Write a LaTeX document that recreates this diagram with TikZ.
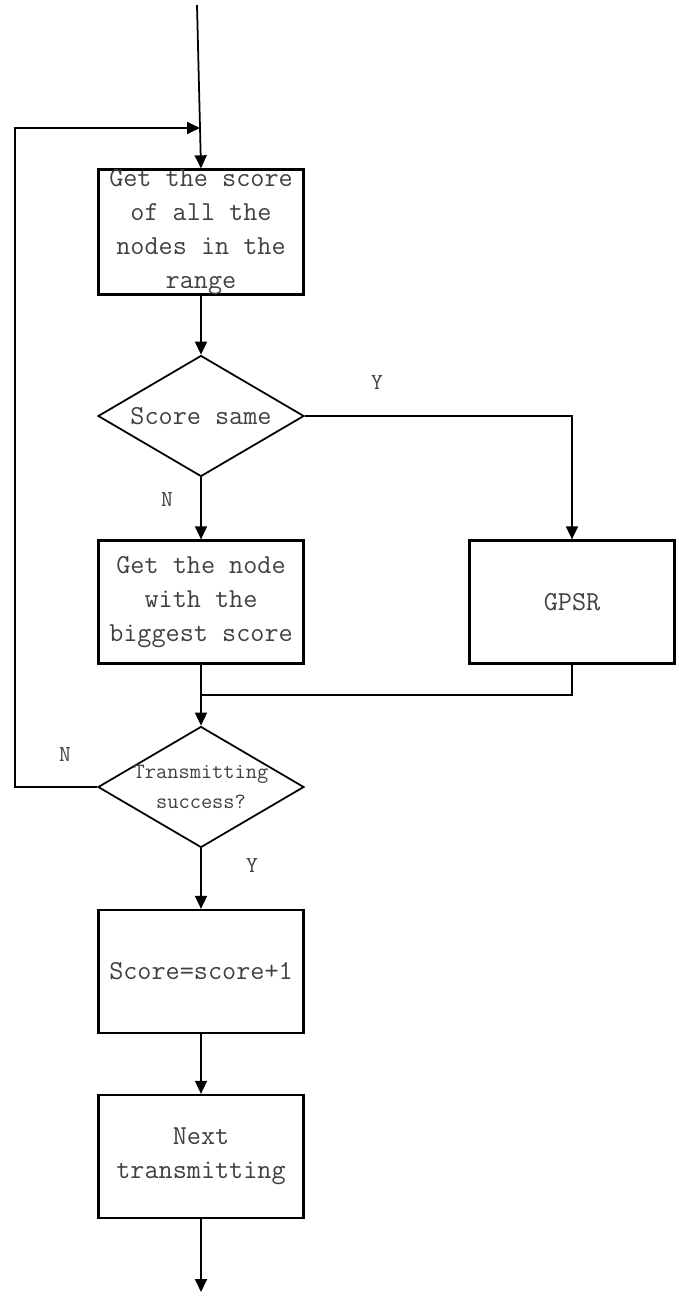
\documentclass[tikz,border=0pt]{standalone}
\usetikzlibrary{shapes.geometric,arrows.meta}

\tikzset{
  box/.style={draw, line width=1.3pt, minimum width=4.1cm, minimum height=2.46cm,
    inner sep=0pt, align=center, text=black!75, font=\ttfamily\fontsize{15.6}{19.3}\selectfont},
  test/.style={draw, diamond, line width=1pt, minimum width=4.12cm, minimum height=2.42cm,
    inner sep=0pt, aspect=1.7, align=center, text=black!75, font=\ttfamily\fontsize{15.6}{19.3}\selectfont},
  inside/.style={align=center, text=black!75, font=\ttfamily\fontsize{12.4}{17}\selectfont},
  line/.style={line width=1pt},
  arr/.style={line, -{Triangle[length=0.26cm,width=0.24cm]}},
  yn/.style={text=black!75, font=\ttfamily\fontsize{13}{13}\selectfont}
}

\begin{document}
\begin{tikzpicture}[x=0.02cm, y=-0.02cm]
\useasboundingbox (0,0) rectangle (679,1298);

\coordinate (start) at (197,5);
\coordinate (merge) at (200,128);
\node[box] (score) at (201,232) {Get the score\\of all the\\nodes in the\\range};
\node[test] (same) at (201,416) {Score same};
\node[box] (best) at (201,602) {Get the node\\with the\\biggest score};
\node[box] (gpsr) at (572,602) {GPSR};
\coordinate (joint) at (201,695);
\node[test, label={[inside]center:Transmitting\\success?}] (ok) at (201,787) {};
\coordinate (loop) at (15,787);
\node[box] (inc) at (201,971.5) {Score=score+1};
\node[box] (next) at (201,1156.5) {Next\\transmitting};
\coordinate (stop) at (201,1292);

\node[yn] (y1) at (377,383) {Y};
\node[yn] (n1) at (167,500) {N};
\node[yn] (n2) at (65,755) {N};
\node[yn] (y2) at (252,866) {Y};

\draw[arr] (start) -- (score.north);
\draw[arr] (score) -- (same);
\draw[arr] (same.east) -| (gpsr.north);
\draw[arr] (same) -- (best);
\draw[line] (gpsr.south) |- (joint);
\draw[arr] (best) -- (ok);
\draw[arr] (ok.west) -- (loop) |- (merge);
\draw[arr] (ok) -- (inc);
\draw[arr] (inc) -- (next);
\draw[arr] (next) -- (stop);
\end{tikzpicture}
\end{document}
